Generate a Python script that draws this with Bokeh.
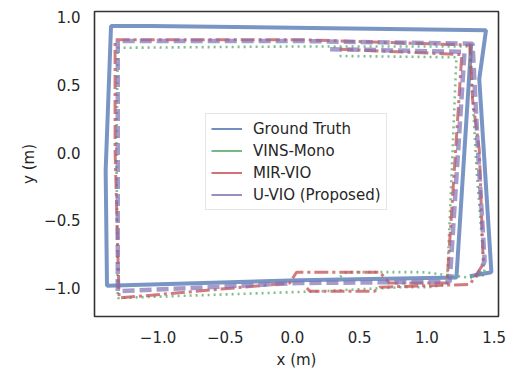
from bokeh.plotting import figure
from bokeh.models import FixedTicker, Range1d
from bokeh.embed import file_html
from bokeh.resources import INLINE

# Trajectories (metres)
gt_x = [1.33, 1.22, 0.05, -1.38, -1.39, -1.35, -1.06, 1.44, 1.39, 1.48, 1.32]
gt_y = [0.80, -0.92, -0.94, -0.98, -0.13, 0.93, 0.93, 0.90, 0.54, -0.88, -0.91]

vins_x = [0.35, 1.22, 1.15, 1.02, 0.82, 0.22, -1.30, -1.31, -1.30, 0.05, 1.32, 1.37, 1.43, 1.32, 0.97, 0.40, 0.35]
vins_y = [0.71, 0.70, -0.97, -0.99, -0.99, -1.02, -1.07, 0.02, 0.77, 0.78, 0.78, -0.13, -0.90, -0.92, -0.88, -0.88, -0.92]

mir_x = [0.35, 1.26, 1.15, 0.72, 0.65, 0.03, -0.02, -1.29, -1.32, -1.32, 0.05, 1.32, 1.34, 1.39, 1.42, 1.32, 0.65, 0.61, 0.13, 0.09]
mir_y = [0.76, 0.72, -0.96, -0.96, -0.88, -0.88, -0.96, -1.07, 0.02, 0.83, 0.83, 0.79, 0.39, 0.02, -0.82, -0.97, -0.99, -1.02, -1.02, -0.98]

uvio_x = [0.28, 1.28, 1.17, 0.05, -1.30, -1.30, -1.30, 0.05, 1.34, 1.38, 1.43, 1.38]
uvio_y = [0.76, 0.74, -0.95, -0.96, -1.02, 0.02, 0.82, 0.82, 0.80, 0.02, -0.80, -0.90]

series_names = ["Ground Truth", "VINS-Mono", "MIR-VIO", "U-VIO (Proposed)"]
x_ticks = [-1.0, -0.5, 0.0, 0.5, 1.0, 1.5]
y_ticks = [-1.0, -0.5, 0.0, 0.5, 1.0]

FONT = "DejaVu Sans"
TXT = "#262626"
FS = "15px"

p = figure(frame_width=404, frame_height=305, output_backend="svg", toolbar_location=None,
           x_range=Range1d(-1.473, 1.533), y_range=Range1d(-1.206, 1.037),
           min_border_left=94, min_border_top=11, min_border_right=8, min_border_bottom=50)
p.background_fill_color = "white"
p.border_fill_color = "white"
p.grid.visible = False
p.outline_line_color = "#333333"
p.outline_line_width = 1.6

colors = ["#4C72B0", "#55A868", "#C44E52", "#8172B2"]

p.line(gt_x, gt_y, line_color=colors[0], line_width=4, line_alpha=0.75)
p.line(vins_x, vins_y, line_color=colors[1], line_width=2.6, line_alpha=0.75, line_dash="2 4")
p.line(mir_x, mir_y, line_color=colors[2], line_width=3, line_alpha=0.75, line_dash="14 4 3 4")
p.line(uvio_x, uvio_y, line_color=colors[3], line_width=4.5, line_alpha=0.7, line_dash="12 5")

# thin legend samples (drawn outside the visible ranges, so only the legend shows them)
for name, c in zip(series_names, colors):
    p.line([50, 51], [50, 50], line_color=c, line_width=2, line_alpha=0.8, legend_label=name)

for ax, ticks in ((p.xaxis, x_ticks), (p.yaxis, y_ticks)):
    ax.ticker = FixedTicker(ticks=ticks)
    ax.major_label_overrides = {t: (("\u2212" if t < 0 else "") + f"{abs(t):.1f}") for t in ticks}
    ax.major_tick_line_color = None
    ax.minor_tick_line_color = None
    ax.axis_line_color = None
    ax.major_label_text_font = FONT
    ax.major_label_text_font_size = FS
    ax.major_label_text_color = TXT
    ax.axis_label_text_font = FONT
    ax.axis_label_text_font_size = FS
    ax.axis_label_text_color = TXT
    ax.axis_label_text_font_style = "normal"
    ax.major_label_standoff = 8

p.xaxis.axis_label = "x (m)"
p.yaxis.axis_label = "y (m)"
p.xaxis.axis_label_standoff = 5
p.yaxis.axis_label_standoff = 3

lg = p.legend[0]
lg.location = (111, 106)
lg.label_text_font = FONT
lg.label_text_font_size = FS
lg.label_text_color = TXT
lg.glyph_width = 31
lg.glyph_height = 19
lg.label_height = 19
lg.spacing = 3
lg.padding = 5
lg.margin = 0
lg.label_standoff = 11
lg.border_line_color = "#cccccc"
lg.border_line_width = 1
lg.background_fill_alpha = 0.8

open("out.html", "w").write(file_html(p, INLINE))
